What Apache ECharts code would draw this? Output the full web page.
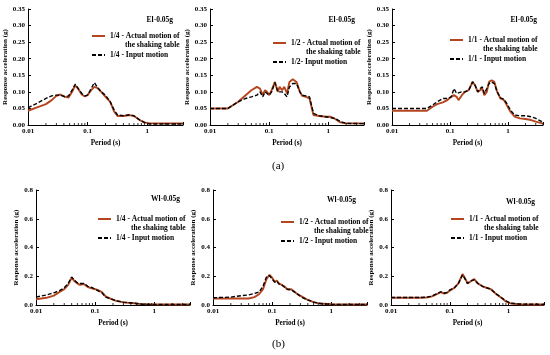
<!DOCTYPE html>
<html><head><meta charset="utf-8">
<script src="https://cdn.jsdelivr.net/npm/echarts@6/dist/echarts.min.js"></script>
<style>html,body{margin:0;padding:0;background:#fff}#c{width:550px;height:355px}</style>
</head><body><div id="c"></div>
<script>
// ---------- data ----------
const xTickLabels = ['0.01', '0.1', '1'];
const minorTickPeriods = [0.02,0.03,0.04,0.05,0.06,0.07,0.08,0.09,0.2,0.3,0.4,0.5,0.6,0.7,0.8,0.9,2,3,4];

// Panel 1: El-0.05g, 1/4
const p1Period = [0.01,0.015,0.02,0.025,0.03,0.035,0.042,0.048,0.055,0.062,0.07,0.08,0.09,0.1,0.115,0.13,0.145,0.17,0.2,0.24,0.28,0.32,0.4,0.5,0.6,0.75,0.9,1.1,2,4];
const p1Actual = [0.043,0.055,0.063,0.075,0.088,0.092,0.085,0.083,0.1,0.12,0.108,0.092,0.086,0.09,0.105,0.115,0.112,0.1,0.085,0.07,0.04,0.027,0.027,0.03,0.027,0.015,0.008,0.005,0.005,0.005];
const p1Input  = [0.052,0.068,0.08,0.088,0.09,0.09,0.085,0.088,0.105,0.123,0.11,0.095,0.088,0.09,0.11,0.128,0.115,0.1,0.09,0.07,0.045,0.03,0.028,0.03,0.028,0.015,0.008,0.003,0.003,0.003];

// Panel 2: El-0.05g, 1/2
const p2Period = [0.01,0.02,0.03,0.04,0.05,0.062,0.07,0.078,0.085,0.092,0.1,0.11,0.125,0.14,0.15,0.165,0.18,0.2,0.22,0.25,0.29,0.33,0.36,0.42,0.48,0.56,0.7,0.9,1.1,1.3,1.6,2,4];
const p2Actual = [0.05,0.05,0.07,0.09,0.105,0.115,0.11,0.09,0.105,0.1,0.09,0.105,0.13,0.1,0.115,0.105,0.115,0.095,0.13,0.138,0.13,0.1,0.088,0.085,0.08,0.03,0.027,0.025,0.025,0.018,0.008,0.005,0.005];
const p2Input  = [0.05,0.05,0.07,0.08,0.085,0.09,0.1,0.085,0.1,0.095,0.09,0.1,0.128,0.1,0.1,0.1,0.095,0.085,0.115,0.125,0.125,0.1,0.09,0.088,0.085,0.035,0.028,0.025,0.022,0.02,0.01,0.005,0.004];

// Panel 3: El-0.05g, 1/1
const p3Period = [0.01,0.02,0.03,0.04,0.05,0.06,0.075,0.09,0.105,0.117,0.13,0.14,0.16,0.18,0.21,0.245,0.27,0.3,0.33,0.36,0.39,0.43,0.47,0.52,0.58,0.65,0.74,0.85,0.95,1.1,1.3,1.6,2,2.5,3,4];
const p3Actual = [0.043,0.043,0.043,0.043,0.055,0.063,0.068,0.075,0.085,0.09,0.085,0.075,0.09,0.1,0.105,0.13,0.12,0.1,0.105,0.11,0.09,0.1,0.13,0.135,0.13,0.1,0.08,0.075,0.06,0.04,0.025,0.02,0.018,0.015,0.01,0.004];
const p3Input  = [0.05,0.05,0.05,0.05,0.06,0.07,0.08,0.08,0.085,0.11,0.095,0.095,0.1,0.1,0.105,0.13,0.12,0.1,0.11,0.115,0.095,0.11,0.125,0.13,0.125,0.1,0.082,0.078,0.065,0.045,0.03,0.028,0.028,0.025,0.02,0.008];

// Panel 4: Wl-0.05g, 1/4
const p4Period = [0.01,0.015,0.02,0.025,0.03,0.035,0.04,0.045,0.05,0.055,0.065,0.075,0.09,0.11,0.13,0.15,0.18,0.22,0.3,0.45,0.6,1,2,4];
const p4Actual = [0.04,0.05,0.065,0.09,0.11,0.14,0.19,0.165,0.15,0.14,0.145,0.125,0.115,0.105,0.09,0.06,0.045,0.03,0.018,0.012,0.006,0.004,0.003,0.003];
const p4Input  = [0.055,0.07,0.085,0.1,0.12,0.15,0.195,0.17,0.155,0.15,0.15,0.13,0.12,0.1,0.085,0.055,0.045,0.03,0.02,0.013,0.006,0.004,0.003,0.003];

// Panel 5: Wl-0.05g, 1/2
const p5Period = [0.01,0.02,0.03,0.04,0.05,0.06,0.07,0.08,0.09,0.1,0.11,0.12,0.13,0.145,0.16,0.18,0.21,0.24,0.28,0.33,0.4,0.5,0.65,1,2,4];
const p5Actual = [0.045,0.045,0.045,0.045,0.055,0.075,0.11,0.18,0.21,0.19,0.16,0.17,0.15,0.14,0.13,0.11,0.11,0.09,0.07,0.055,0.035,0.02,0.01,0.005,0.003,0.003];
const p5Input  = [0.05,0.055,0.065,0.07,0.08,0.09,0.13,0.195,0.205,0.18,0.16,0.165,0.145,0.14,0.125,0.11,0.105,0.09,0.07,0.05,0.035,0.02,0.01,0.005,0.003,0.003];

// Panel 6: Wl-0.05g, 1/1
const p6Period = [0.01,0.02,0.03,0.04,0.05,0.06,0.07,0.08,0.09,0.1,0.12,0.14,0.165,0.185,0.2,0.23,0.26,0.3,0.36,0.42,0.5,0.6,0.75,0.9,1.1,1.5,2.5,4];
const p6Actual = [0.05,0.05,0.05,0.052,0.06,0.075,0.09,0.08,0.085,0.1,0.12,0.15,0.215,0.18,0.15,0.165,0.18,0.15,0.13,0.12,0.11,0.08,0.05,0.025,0.01,0.005,0.003,0.003];
const p6Input  = [0.052,0.052,0.052,0.054,0.062,0.078,0.092,0.082,0.088,0.105,0.12,0.15,0.21,0.175,0.15,0.17,0.175,0.15,0.13,0.12,0.11,0.08,0.052,0.028,0.012,0.007,0.005,0.004];

const panelTitles = ['El-0.05g','El-0.05g','El-0.05g','Wl-0.05g','Wl-0.05g','Wl-0.05g'];
const actualLine1 = ['1/4 - Actual motion of','1/2 - Actual motion of','1/1 - Actual motion of','1/4 - Actual motion of','1/2 - Actual motion of','1/1 - Actual motion of'];
const actualLine2 = 'the shaking table';
const inputNames = ['1/4 - Input motion','1/2- Input motion','1/1 - Input motion','1/4 - Input motion','1/2 - Input motion','1/1 - Input motion'];
const rowLabels = ['(a)', '(b)'];

// ---------- layout ----------
const FONT = '"Liberation Serif", "Times New Roman", serif';
const RED = '#b4451f';
const layout = [
  {left:28,  top:9,   width:155, height:116, ymax:0.35, yint:0.05, dec:2, titleRight:377, titleTop:16, legLeft:91,  leg1:36,  leg2:55,  nameGap:18},
  {left:210, top:9,   width:154, height:116, ymax:0.35, yint:0.05, dec:2, titleRight:195, titleTop:16, legLeft:272, leg1:43,  leg2:62,  nameGap:18},
  {left:392, top:9,   width:151, height:116, ymax:0.35, yint:0.05, dec:2, titleRight:13,  titleTop:16, legLeft:449, leg1:40,  leg2:59,  nameGap:18},
  {left:36,  top:190, width:154, height:115, ymax:0.8,  yint:0.2,  dec:1, titleRight:370, titleTop:195, legLeft:97,  leg1:219, leg2:238, nameGap:16},
  {left:213, top:190, width:154, height:115, ymax:0.8,  yint:0.2,  dec:1, titleRight:194, titleTop:196, legLeft:280, leg1:222, leg2:241, nameGap:16},
  {left:391, top:190, width:153, height:115, ymax:0.8,  yint:0.2,  dec:1, titleRight:15,  titleTop:198, legLeft:450, leg1:219, leg2:238, nameGap:16}
];
const periods = [p1Period,p2Period,p3Period,p4Period,p5Period,p6Period];
const actuals = [p1Actual,p2Actual,p3Actual,p4Actual,p5Actual,p6Actual];
const inputs  = [p1Input,p2Input,p3Input,p4Input,p5Input,p6Input];

const grid = [], xAxis = [], yAxis = [], series = [], legend = [], title = [];
const zip = (xs, ys) => xs.map((x, i) => [x, ys[i]]);

layout.forEach((L, i) => {
  grid.push({left:L.left, top:L.top, width:L.width, height:L.height, containLabel:false});
  xAxis.push({
    type:'log', logBase:10, min:0.01, max:4, gridIndex:i,
    name:'Period (s)', nameLocation:'middle', nameGap:15,
    nameTextStyle:{fontFamily:FONT, fontWeight:'bold', fontSize:7.2, color:'#000'},
    axisLine:{lineStyle:{color:'#000', width:1}},
    axisTick:{inside:true, length:3, lineStyle:{color:'#000'}},
    axisLabel:{fontFamily:FONT, fontWeight:'bold', fontSize:7, color:'#000', margin:3,
      formatter: v => { const k = Math.round(Math.log10(v)) + 2; return xTickLabels[k] !== undefined ? xTickLabels[k] : ''; }},
    splitLine:{show:false}
  });
  yAxis.push({
    type:'value', min:0, max:L.ymax, interval:L.yint, gridIndex:i,
    name:'Response acceleration (g)', nameLocation:'middle', nameGap:L.nameGap,
    nameTextStyle:{fontFamily:FONT, fontWeight:'bold', fontSize:7, color:'#000'},
    axisLine:{show:true, lineStyle:{color:'#000', width:1}},
    axisTick:{show:true, inside:true, length:3, lineStyle:{color:'#000'}},
    axisLabel:{fontFamily:FONT, fontWeight:'bold', fontSize:7, color:'#000', margin:3,
      formatter: v => v.toFixed(L.dec)},
    splitLine:{show:false}
  });
  const aName = actualLine1[i] + ' ' + actualLine2;
  series.push({
    type:'line', name:aName, xAxisIndex:i, yAxisIndex:i, data:zip(periods[i], actuals[i]),
    showSymbol:false, symbol:'none', color:RED, lineStyle:{color:RED, width:1.9}, z:2
  });
  series.push({
    type:'line', name:inputNames[i], xAxisIndex:i, yAxisIndex:i, data:zip(periods[i], inputs[i]),
    showSymbol:false, symbol:'none', color:'#000', lineStyle:{color:'#000', width:1.4, type:[4,2]}, z:3
  });
  series.push({
    type:'custom', xAxisIndex:i, yAxisIndex:i, silent:true, z:4,
    data: minorTickPeriods.map(p => [p, 0]),
    renderItem: (params, api) => {
      const pt = api.coord([api.value(0), 0]);
      return {type:'line', shape:{x1:pt[0], y1:pt[1], x2:pt[0], y2:pt[1]-2}, style:{stroke:'#000', lineWidth:0.8}};
    }
  });
  const txt = {fontFamily:FONT, fontWeight:'bold', fontSize:7.5, color:'#000', lineHeight:9};
  legend.push({
    data:[aName], left:L.legLeft, top:L.leg1 - 13.5, padding:0, orient:'vertical',
    itemWidth:13, itemHeight:8, selectedMode:false, itemStyle:{opacity:0},
    formatter: () => '{a|' + actualLine1[i] + '}\n{b|' + actualLine2 + '}',
    textStyle: Object.assign({}, txt, {padding:[9,0,0,0], rich:{a:Object.assign({}, txt), b:Object.assign({align:'right'}, txt)}})
  });
  legend.push({
    data:[inputNames[i]], left:L.legLeft, top:L.leg2 - 4.5, padding:0, orient:'vertical',
    itemWidth:13, itemHeight:8, selectedMode:false, itemStyle:{opacity:0}, textStyle:txt
  });
  title.push({text:panelTitles[i], right:L.titleRight, top:L.titleTop, padding:0,
    textStyle:{fontFamily:FONT, fontWeight:'bold', fontSize:7.5, color:'#000'}});
});
title.push({text:rowLabels[0], left:272, top:161, padding:0, textStyle:{fontFamily:FONT, fontWeight:'normal', fontSize:11, color:'#000'}});
title.push({text:rowLabels[1], left:272, top:339, padding:0, textStyle:{fontFamily:FONT, fontWeight:'normal', fontSize:11, color:'#000'}});

const chart = echarts.init(document.getElementById('c'), null, {renderer:'canvas'});
chart.setOption({animation:false, backgroundColor:'#fff', grid, xAxis, yAxis, series, legend, title});
</script>
</body></html>
